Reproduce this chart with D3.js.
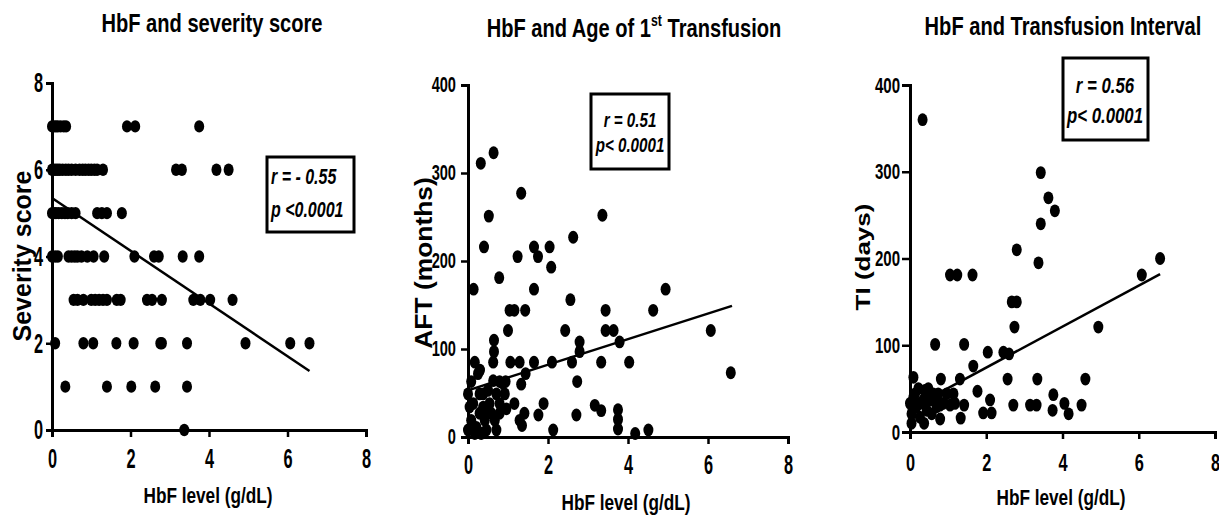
<!DOCTYPE html>
<html>
<head>
<meta charset="utf-8">
<script src="https://cdn.jsdelivr.net/npm/d3@7"></script>
<style>
  body { margin: 0; background: #fff; }
  text { font-family: "Liberation Sans", Arial, sans-serif; font-weight: bold; fill: #000; }
</style>
</head>
<body>
<script>
// severity score panel
const sevHbf = [0.0, 0.05, 0.1, 0.15, 0.22, 0.3, 0.36, 1.91, 2.12, 3.75,
  0.0, 0.05, 0.1, 0.15, 0.2, 0.27, 0.35, 0.42, 0.5, 0.6, 0.7, 0.78, 0.85, 0.93, 1.0, 1.08, 1.15, 1.3, 3.16, 3.31, 4.19, 4.5,
  0.0, 0.05, 0.1, 0.17, 0.25, 0.33, 0.4, 0.5, 0.6, 1.15, 1.27, 1.4, 1.78,
  0.0, 0.08, 0.15, 0.42, 0.5, 0.58, 0.65, 0.75, 0.9, 1.06, 1.33, 2.1, 2.6, 2.72, 3.33, 3.75,
  0.55, 0.65, 0.8, 1.0, 1.1, 1.2, 1.3, 1.4, 1.65, 1.75, 2.42, 2.55, 2.8, 3.6, 3.78, 4.03, 4.6,
  0.08, 0.8, 1.05, 1.64, 2.08, 2.76, 2.8, 3.44, 4.93, 6.07, 6.56,
  0.34, 1.4, 2.02, 2.63, 3.44,
  3.37];
const sevScore = [7, 7, 7, 7, 7, 7, 7, 7, 7, 7,
  6, 6, 6, 6, 6, 6, 6, 6, 6, 6, 6, 6, 6, 6, 6, 6, 6, 6, 6, 6, 6, 6,
  5, 5, 5, 5, 5, 5, 5, 5, 5, 5, 5, 5, 5,
  4, 4, 4, 4, 4, 4, 4, 4, 4, 4, 4, 4, 4, 4, 4, 4,
  3, 3, 3, 3, 3, 3, 3, 3, 3, 3, 3, 3, 3, 3, 3, 3, 3,
  2, 2, 2, 2, 2, 2, 2, 2, 2, 2, 2,
  1, 1, 1, 1, 1,
  0];
const sevFit = [[0, 5.35], [6.56, 1.36]];

// age of first transfusion panel
const aftHbf = [0.14, 0.32, 0.64, 0.4, 0.52, 0.17, 0.08, 0.78, 0.65, 0.65, 0.63, 0.3, 1.33, 1.24, 1.65, 1.75,
  2.04, 2.08, 1.65, 2.63, 3.36, 2.56, 4.94, 1.04, 1.16, 1.43, 1.0, 2.43, 3.44, 3.44, 3.64, 4.63, 6.07,
  2.79, 3.79, 2.79, 1.06, 1.29, 1.65, 2.1, 2.6, 3.33, 4.03, 6.57, 1.44, 1.33, 2.73, 0.79, 0.94, 1.89,
  1.16, 3.17, 1.76, 2.71, 3.33, 1.41, 1.29, 1.35, 3.75, 3.75, 3.75, 2.13, 4.18, 4.51,
  0.0, 0.04, 0.08, 0.0, 0.17, 0.21, 0.29, 0.29, 0.38, 0.42, 0.46, 0.5, 0.54, 0.58, 0.67, 0.71, 0.71,
  0.79, 0.87, 0.63, 0.25, 0.38, 0.48, 0.13, 0.33, 0.25, 0.79, 0.92, 0.96];
const aftMonths = [168, 311, 323, 216, 251, 85, 63, 181, 110, 97, 85, 76, 277, 205, 216, 205,
  216, 193, 168, 227, 252, 156, 168, 144, 144, 144, 121, 121, 144, 121, 121, 144, 121,
  108, 108, 97, 85, 85, 85, 85, 85, 85, 85, 73, 72, 60, 63, 63, 63, 38,
  38, 36, 25, 25, 30, 27, 19, 13, 31, 20, 9, 8, 4, 8,
  49, 34, 19, 8, 4, 11, 27, 49, 34, 19, 8, 53, 38, 27, 19, 8, 49,
  38, 61, 64, 72, 49, 30, 38, 4, 6, 27, 49, 32];
const aftFit = [[0, 53], [6.6, 149]];

// transfusion interval panel
const tiHbf = [0.33, 3.43, 3.63, 3.8, 3.43, 3.37, 2.8, 6.56, 6.08, 1.05, 1.24, 1.64, 2.67, 2.8, 2.74, 4.94,
  0.66, 1.42, 2.04, 2.45, 2.6, 1.66, 2.56, 3.34, 4.6, 1.77, 2.1, 3.76, 2.71, 3.15, 3.32, 4.05, 4.5,
  3.74, 4.16, 1.92, 2.14, 1.31, 0.81, 0.09, 1.33, 1.42, 1.14, 0.79,
  0.0, 0.04, 0.04, 0.13, 0.17, 0.26, 0.35, 0.39, 0.44, 0.37, 0.52, 0.57, 0.61, 0.7, 0.79, 0.87, 0.96,
  1.05, 1.18, 0.26, 0.09, 0.22, 0.48, 0.66, 0.74];
const tiDays = [360, 299, 270, 255, 240, 195, 210, 200, 181, 181, 181, 181, 150, 150, 121, 121,
  101, 101, 92, 92, 90, 76, 61, 61, 61, 47, 37, 43, 31, 31, 31, 33, 31,
  25, 21, 22, 22, 61, 61, 63, 16, 31, 44, 31,
  33, 21, 10, 44, 29, 17, 37, 48, 25, 10, 37, 21, 44, 29, 15, 33, 44,
  31, 33, 33, 40, 50, 50, 35, 44];
const tiFit = [[0, 27], [6.56, 182]];

const xTicks = [0, 2, 4, 6, 8];
const sevTicks = [0, 2, 4, 6, 8];
const monthTicks = [0, 100, 200, 300, 400];

const w = 1219;
const h = 520;
// no narrow font installed, so squeeze Liberation Sans like Arial Narrow
const NARROW = 0.82;

const svg = d3.select("body").append("svg").attr("width", w).attr("height", h);

// text helper, the source figure is stretched unevenly so each label gets its own scale
function label(g, str, x, y, size, sx, sy, opts = {}) {
  const t = g.append("text")
    .attr("transform", `translate(${x},${y}) rotate(${opts.rotate || 0}) scale(${sx},${sy})`)
    .attr("text-anchor", opts.anchor || "middle")
    .style("font-size", size + "px");
  if (opts.italic) t.style("font-style", "italic");
  t.text(str);
  return t;
}

function panel(cfg) {
  const g = svg.append("g");
  const x = d3.scaleLinear().domain([0, 8]).range(cfg.xRange);
  const y = d3.scaleLinear().domain(cfg.yDomain).range(cfg.yRange);

  //axes
  const ax = g.append("g")
    .attr("transform", `translate(0,${cfg.yRange[0]})`)
    .call(d3.axisBottom(x).tickValues(xTicks).tickSizeOuter(0).tickSize(7));
  const ay = g.append("g")
    .attr("transform", `translate(${cfg.xRange[0]},0)`)
    .call(d3.axisLeft(y).tickValues(cfg.yTicks).tickSizeOuter(0).tickSize(cfg.yTick));

  [ax, ay].forEach((a) => {
    a.attr("font-family", null).attr("font-size", null);
    a.select(".domain").attr("stroke", "#000").attr("stroke-width", 3);
    a.selectAll(".tick line").attr("stroke", "#000").attr("stroke-width", 2.5);
  });
  // [font size, scaleY, gap from axis]
  const tickSx = 0.86;
  const [xs, xsy, xgap] = cfg.xFont;
  ax.selectAll("text")
    .style("font-size", xs + "px")
    .attr("transform", `scale(${tickSx},${xsy})`)
    .attr("y", xgap / xsy);
  const [ys, ysy, ygap] = cfg.yFont;
  ay.selectAll("text")
    .style("font-size", ys + "px")
    .attr("transform", `scale(${tickSx},${ysy})`)
    .attr("x", -ygap / tickSx);

  //fit line
  g.append("path")
    .datum(cfg.fit)
    .attr("fill", "none")
    .attr("stroke", "#000")
    .attr("stroke-width", 2.5)
    .attr("d", d3.line().x((d) => x(d[0])).y((d) => y(d[1])));

  //points
  g.selectAll("ellipse")
    .data(cfg.xs)
    .enter()
    .append("ellipse")
    .attr("cx", (d) => x(d))
    .attr("cy", (d, i) => y(cfg.ys[i]))
    .attr("rx", cfg.dot[0])
    .attr("ry", cfg.dot[1])
    .attr("fill", "#000");

  //titles
  const tt = label(g, "", cfg.title.x, cfg.title.y, 24.5, NARROW, 1.08);
  cfg.title.parts.forEach((p) => {
    const s = tt.append("tspan").text(p.t);
    if (p.sup) s.style("font-size", "15px").attr("dy", -10);
    if (p.down) s.attr("dy", 10);
  });
  label(g, "HbF level (g/dL)", cfg.xTitle[0], cfg.xTitle[1], 21, NARROW, 1.08);
  const yt = cfg.yTitle;
  label(g, yt.t, yt.x, yt.y, yt.size, yt.sx, 1, { rotate: -90 });

  //stats box
  const b = cfg.box;
  g.append("rect")
    .attr("x", b.x).attr("y", b.y).attr("width", b.w).attr("height", b.h)
    .attr("fill", "none").attr("stroke", "#000").attr("stroke-width", 3);
  b.lines.forEach((l) => {
    label(g, l.t, l.x, l.y, b.size, NARROW, b.sy, { italic: true, anchor: b.anchor });
  });
}

panel({
  xs: sevHbf, ys: sevScore, fit: sevFit,
  xRange: [52, 366], yDomain: [0, 8], yRange: [430, 83], yTicks: sevTicks,
  yTick: 6, xFont: [19, 1.45, 18], yFont: [19, 1.45, 9],
  dot: [5, 6.2],
  title: { x: 212, y: 32, parts: [{ t: "HbF and severity score" }] },
  xTitle: [208, 503],
  yTitle: { t: "Severity score", x: 31, y: 256, size: 25, sx: 1 },
  box: { x: 267, y: 157, w: 87, h: 75, size: 19.5, sy: 1.1, anchor: "start",
    lines: [{ t: "r = - 0.55", x: 271, y: 184 }, { t: "p <0.0001", x: 271, y: 217 }] }
});

panel({
  xs: aftHbf, ys: aftMonths, fit: aftFit,
  xRange: [468, 788], yDomain: [0, 400], yRange: [437, 85], yTicks: monthTicks,
  yTick: 7, xFont: [19, 1.5, 17], yFont: [17, 1.25, 12],
  dot: [5, 6.4],
  title: { x: 634, y: 37, parts: [{ t: "HbF and Age of 1" }, { t: "st", sup: true }, { t: " Transfusion", down: true }] },
  xTitle: [626, 510],
  yTitle: { t: "AFT (months)", x: 432, y: 263, size: 24, sx: 1.1 },
  box: { x: 591, y: 94, w: 78, h: 75, size: 18.5, sy: 1.08, anchor: "middle",
    lines: [{ t: "r = 0.51", x: 630, y: 127 }, { t: "p< 0.0001", x: 630, y: 152 }] }
});

panel({
  xs: tiHbf, ys: tiDays, fit: tiFit,
  xRange: [910, 1215], yDomain: [0, 400], yRange: [432, 85], yTicks: monthTicks,
  yTick: 8, xFont: [19, 1.3, 21], yFont: [17.5, 1.28, 10],
  dot: [5, 6.4],
  title: { x: 1063, y: 35, parts: [{ t: "HbF and Transfusion Interval" }] },
  xTitle: [1061, 505],
  yTitle: { t: "TI (days)", x: 870, y: 257, size: 20, sx: 1.3 },
  box: { x: 1063, y: 58, w: 85, h: 82, size: 20.5, sy: 1.1, anchor: "middle",
    lines: [{ t: "r = 0.56", x: 1105, y: 93 }, { t: "p< 0.0001", x: 1105, y: 123 }] }
});
</script>
</body>
</html>
